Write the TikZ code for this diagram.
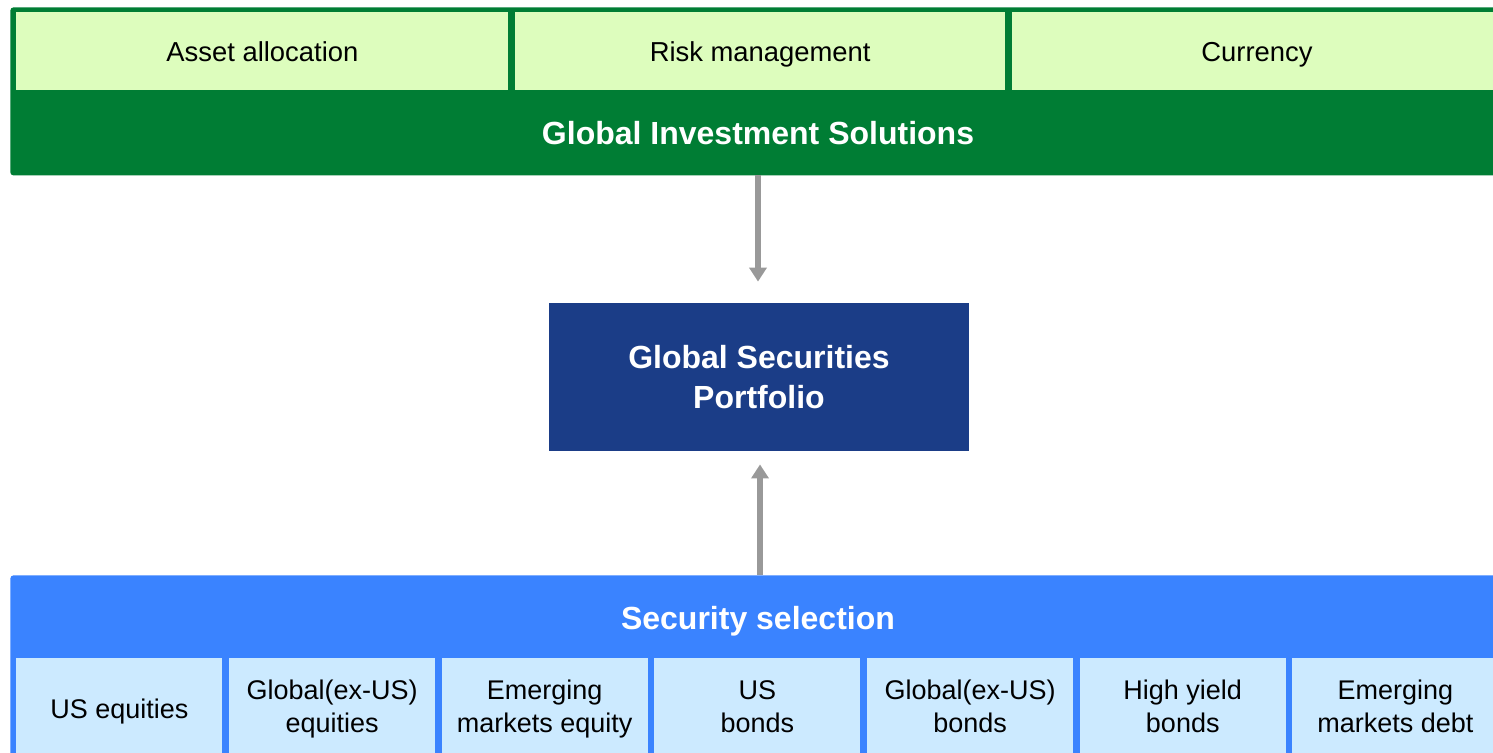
\documentclass[tikz,border=0pt]{standalone}
\usepackage{fontspec}
\setmainfont{Liberation Sans}
\usepackage{tikz}
\usetikzlibrary{
  arrows.meta,
  positioning
}
\definecolor{GisGreen}{RGB}{0, 125, 52}
\definecolor{GisLight}{RGB}{221, 253, 189}
\definecolor{PortNavy}{RGB}{27, 61, 135}
\definecolor{SelBlue}{RGB}{58, 131, 255}
\definecolor{SelLight}{RGB}{204, 234, 255}
\definecolor{FlowGray}{RGB}{153, 153, 153}
% struts so every tab centres its lines the same way
\newcommand{\tabtop}{\rule{0pt}{14.6pt}}
\newcommand{\tabbot}{\rule[-4.9pt]{0pt}{0pt}}
\tikzset{
    frame/.style={rectangle, rounded corners=1.5pt, inner sep=0pt, anchor=north west},
    gistab/.style={rectangle, fill=GisLight, inner sep=0pt, anchor=north west,
        minimum height=39pt, font=\fontsize{13.7}{16.5}\selectfont,
        execute at begin node=\tabtop, execute at end node=\tabbot},
    seltab/.style={rectangle, fill=SelLight, inner sep=0pt, anchor=north west,
        minimum width=103pt, minimum height=53pt, align=center,
        font=\fontsize{13.5}{16.5}\selectfont,
        execute at begin node=\strut, execute at end node=\strut},
    heading/.style={text=white, font=\fontsize{16}{20}\selectfont\bfseries, align=center},
    flow/.style={draw=FlowGray, line width=3pt, -{Triangle[width=8.5pt,length=7pt]}}
}

\begin{document}
\begin{tikzpicture}[x=0.5pt, y=-0.5pt]
    \useasboundingbox (0,0) rectangle (1493,752);
    \clip (0,0) rectangle (1493,752);

    % top block
    \node[frame, fill=GisGreen, minimum width=760pt, minimum height=84pt] (gis) at (10,7) {};
    \node[gistab, minimum width=246pt] (alloc) at (16,12) {Asset allocation};
    \node[gistab, minimum width=245pt, right=3pt of alloc] (risk) {Risk management};
    \node[gistab, minimum width=245pt, right=3pt of risk] (ccy) {Currency};
    \node[heading] (gistitle) at (758,133) {Global Investment Solutions};

    % portfolio in the middle
    \node[rectangle, fill=PortNavy, minimum width=210pt, minimum height=74pt,
        heading] (gsp) at (759,377) {Global Securities\\Portfolio};

    % bottom block
    \node[frame, fill=SelBlue, minimum width=760pt, minimum height=100pt] (sel) at (10,575) {};
    \node[heading] (seltitle) at (758,621) {Security selection};
    \foreach \i/\txt in {0/US equities, 1/Global(ex-US)\\equities, 2/Emerging\\markets equity,
        3/US\\bonds, 4/Global(ex-US)\\bonds, 5/High yield\\bonds, 6/Emerging\\markets debt}
        \node[seltab] (asset\i) at (16+\i*212.67,658) {\txt};

    % arrows into the portfolio
    \draw[flow, shorten >=10.5pt] (758,175) coordinate (gisout) -- (gisout |- gsp.north);
    \draw[flow, shorten >=6.5pt] (760,575) coordinate (selout) -- (selout |- gsp.south);
\end{tikzpicture}
\end{document}
